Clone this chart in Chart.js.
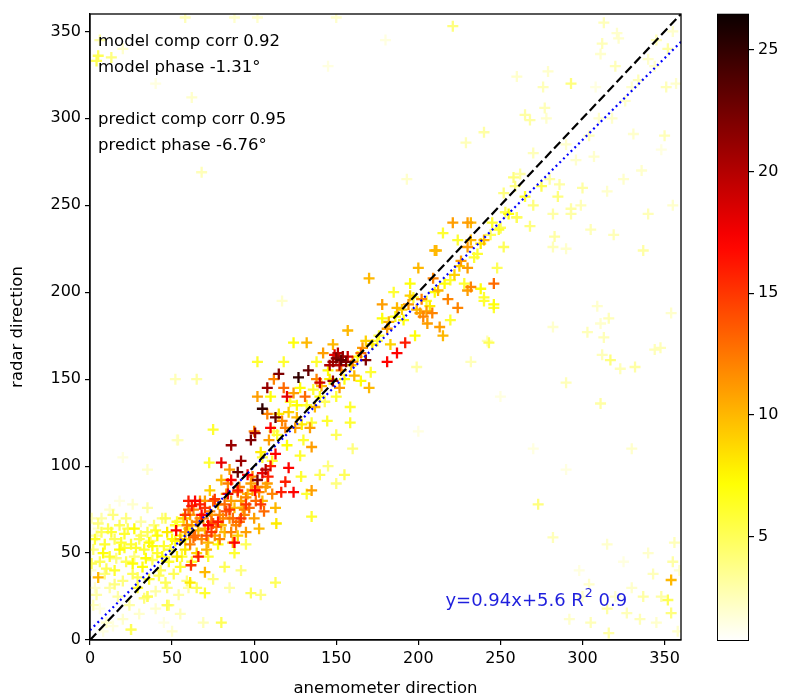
<!DOCTYPE html>
<html>
<head>
<meta charset="utf-8">
<script src="https://cdn.jsdelivr.net/npm/chart.js@4.4.1/dist/chart.umd.min.js"></script>
<style>
  body { margin: 0; background: #fff; }
  #wrap { position: relative; width: 785px; height: 699px; }
  #scatter { position: absolute; left: 0; top: 0; }
  #cbar { position: absolute; left: 700px; top: 0; }
</style>
</head>
<body>
<div id="wrap">
  <canvas id="scatter" width="700" height="699"></canvas>
  <canvas id="cbar" width="85" height="699"></canvas>
</div>
<script>
// --- Data (directions in degrees, colour = wind speed) ---
const anemometerDir = [
  // pale/yellow cloud, lower left
  2,4,6,7,9,9,11,12,12,14, 15,15,17,18,18,20,21,22,22,24,
  25,26,27,27,29,30,31,32,33,33, 35,36,36,38,39,40,41,41,43,44,
  45,46,47,48,48,50,51,52,53,54, 55,55,57,58,59,60,
  3,6,10,14,20,25,30,35,40,45, 47,50,55,60,8,2,5,12,18,26, 35,0.5,1,
  5,25,35,47,70,69,80,98,104,113,61,70,
  62,65,72,75,78,82,85,88,92,95,
  1,3,5,8,10,13,16,19,23,26, 28,31,34,37,40,42,44,46,49,52, 56,58,4,7,15,21,29,38,47,53,
  // orange / red band along the diagonal
  55,58,61,62,64,67,68,70,73,74, 76,79,80,82,85,86,88,91,92,94,
  96,97,100,102,105,106,108,111,63,67, 71,75,79,83,87,91,95,99,57,65,
  80,85,73,90,103,
  59,61,63,66,69,71,74,77,78,81, 83,86,89,90,93,95,98,101,103,107, 60,65,70,75,82,87,94,99,72,84,
  52.5,64,60,67,70,66,61.5,80,86,88, 100.6,108.5,113,121,116.5,124,119,95,85,78, 92,104,74,
  62,68,76,84,90,96,105,110,58,72,
  86,98,90,92,102,107,100.6,
  113,113.5,135,135,135,128.6,125,75,72.6,53,35,65,100,
  // 100-170 degrees
  102,122,124,158.5,158.5,144.5,135,171,165,110, 115,118,128,132,140,145,150,155,138,112,
  105,120,130,150,145,160,155,
  104,109,114,117,121,126,131,136,141,146, 153,159,163,166,143,137,129,119,111,161,
  102,124,134,132,170,157,112,118,108,126, 138,142,160,165,148,152,168,
  127,133,115,108,105,113,140,148,168,181, 187,192,120,110,
  148,150,152,154,156,151,157,146,153,149,
  // 170-250 degrees
  201,199,203,205,215,246,232,230,210,200, 170,178,221,232,218,230,224,181,187,208.5,
  205.5,213,211,232,230,240,230,195,225,
  215,195,219.5,240,246,248,219.5,238,175,191, 224,236,252,250,260,240,246,243,185,178,
  198,210,228,205,
  172,176,182,186,190,194,197,202,207,212, 216,222,226,234,238,244,249,253,183,209,
  117,242,232,199,193,229,
  // upper right, faint
  221,313,321,312,311,279,293,276,320,340, 351,260,265,268,240,277,307,331,293,293,
  282,319,337,305,282,258,252,259,275,260, 250,270,265,255,245,280,285,300,355,345,
  330,350,310,290,325,355,340,290,
  262,270,286,296,304,318,326,334,344,352, 268,283,299,315,336,348,357,278,308,322,
  58,88,102,68,6,5,13,4,20,40, 62,145,180,150,
  // right side, faint
  282,309,303,311,316,313,317,323,332,347.5, 354,290,311,273,282,315,356,354,352,354,
  316,305,315,343,337,327,330,345,358,300, 340,355,312,290,250,200,270,330,
  292,298,320,335,348,359,325,304,
  132,140,128,150,52,53.6,20,344
];
const radarDir = [
  52,60,45,70,38,55,64,30,48,72, 58,40,25,66,52,34,61,45,70,20,
  55,38,64,48,30,58,68,42,52,24, 62,35,56,46,66,28,50,60,40,70,
  54,33,62,45,20,58,38,66,48,26, 60,42,70,52,34,64,
  30,18,10,8,12,6,15,25,18,10, 20,5,15,30,5,20,64,75,80,78, 76,40,70,
  36,6,25,20,27,10,10,27,26,33,33,39,
  45,30,48,35,55,42,30,50,40,55,
  44,58,67,50,41,62,47,56,64,44, 53,60,47,57,63,37,48,70,52,57, 48,58,26,62,32,53,36,54,30,68,
  58,62,55,66,60,70,58,64,74,68, 60,72,66,78,70,62,76,68,80,72,
  84,76,70,88,80,74,90,84,75,80, 52,80,58,84,56,88,62,94,70,50,
  92,98,86,60,64,
  66,72,59,63,70,60,72,65,78,70, 74,80,66,85,76,82,90,80,85,88, 75,68,80,67,62,70,75,86,56,90,
  63,80,80,78,76,48,43,102,92,56, 86,94,107,99,85,85,91,78,75,68, 70,78,62,
  77,72,81,84,86,95,96,100,72,66,
  112,115,96.5,103,92,98,119,
  76,67,71,111,86,94,122,121,102,115,98,150,120,
  160,137,171,134,125,126,125,154,149,140, 130,160,145,135,140,155,140,150,160,120,
  105,112,115,118,100,110,95,
  108,115,118,126,131,135,140,144,146,150, 155,158,163,168,137,134,124,122,103,152,
  140,142,122,171,145,178,150,145,130,128, 150,165,160,165,170,145,172,
  151,155,153,145,133,128,148,149,161,160, 165,171,140,122,
  160,162,158,163,160,165,163,158,161,164,
  188,190,186,189,175,205,203,214,224,214, 208,193,240,240,196,201,191,179,191,188,
  182,180,224,230,226,230,240,198,215,
  234,205,207,195,191,214,184,202,172,184, 230,222,226,237,243,197,193,171,200,185,
  175,200,205,195,
  170,175,183,186,190,193,197,196,192,201, 205,210,218,220,228,233,236,246,170,208,
  195,172,160,157,265,286,
  353,355,349,343,337,327,320,318,330,334, 318,324,302,299,292,306,278,291,248,245,
  245,233,224,236,226,266,257,261,261,243, 237,250,255,245,240,265,255,260,350,345,
  318,290,300,285,265,250,245,225,
  268,280,262,276,290,300,310,322,330,340, 238,232,250,258,270,282,320,300,318,346,
  358,358,358,269,345,336,335,333,340,320, 312,330,345,358,
  180,192,177,182,185,174,161,156,157,168, 188,148,136,78,59,55,56,34.5,23,15.5,
  4,10,18,38,25,15.5,30,10,5,25, 50,45,164,98,140,120,110,110,
  12,40,25,12,25,40,45,32,
  84,95,106,90,150,115,105,167
];
const windSpeed = [
  4,3,5,3,4,6,5,3,6,4, 5,6,3,5,7,4,6,5,4,3,
  6,5,7,4,6,5,3,7,6,4, 5,6,7,5,4,3,6,7,5,4,
  6,5,8,6,4,7,5,6,8,3, 7,6,5,8,4,7,
  2,1.5,2,1.5,2,3,2,4,2,1.5, 3,2,2.5,3,1.5,2.5,2,2,1.5,2, 3,2,2.5,
  10,5,5,5,6,2.5,5,5,4,5,8,10,
  6,5,6,4,7,5,3,6,4,5,
  5,6,4,7,5,6,4,6,5,7, 6,5,7,4,6,5,7,5,6,7, 6,8,3,5,4,6,5,7,4,6,
  10,11,12,10,13,11,12,10,12,13, 11,12,10,13,11,12,10,13,11,12,
  10,13,11,12,10,13,11,12,12,11, 10,13,12,11,10,12,11,12,9,9,
  10,11,9,9,10,
  12,11,13,10,12,14,11,13,10,12, 14,11,12,13,10,12,11,13,12,11, 13,12,11,14,10,13,12,11,10,12,
  17,17,16,16,15,16,15,18,17,17, 17,16,17,17,16,17,16,15,15,16, 15,15,15,
  16,17,15,18,16,17,18,16,15,17,
  21,22,23,21,22,20,21,
  10,8,6,11,11,6,11,6,6,2,2,3,12,
  6,6,7,6,6,6,6,6,7,7, 8,6,7,6,7,7,6,7,6,5,
  6,7,6,5,4,4,5,
  8,11,6,12,9,7,13,6,10,8, 12,9,7,11,5,10,8,12,6,10,
  11,11,11,10,10,10,12,13,12,10, 12,11,12,13,10,11,9,
  25,23,22,21,25,23,19,21,22,17, 17,16,18,17,
  21,22,20,21,22,20,19,20,23,18,
  11,10,12,11,10,13,12,11,10,10, 10,11,11,10,12,11,12,11,10,12,
  11,11,10,10,11,10,11,9,9,
  6,7,6,6,6,5,6,7,6,7, 6,6,5,5,5,6,7,5,6,7,
  7,7,6,6,
  8,6,10,7,9,11,6,12,8,10, 7,9,11,6,8,5,6,5,9,12,
  2,2.5,2.5,3,2,2.5,
  4,2.5,2,2.5,2,2,4,2.5,2.5,2, 2.5,2,3,3,3,2.5,2,2,3,3,
  3,2.5,3,2.5,2.5,4,4,4,5,5, 5,4,6,7,6,3,4,3,2,2.5,
  2,2.5,2,2,2,2,2.5,2,
  3,2.5,3,2,2.5,2,2,2.5,2,3, 4,3,2.5,2,2,1.5,2,2,1.5,2,
  2.5,2,2,2.5,3,5,4,5,2,1.5, 2,1.5,1.5,2,
  2,2,2.5,2,2.5,2.5,4,2.5,3,2.5, 2,2.5,3,4,2.5,2,2.5,10,5,4,
  3,2.5,3,2.5,3,2.5,2,2,2,2, 2,3,2.5,1.5,1.5,1.5,1.5,2,
  2,1.5,2,2.5,3,2,1.5,2,
  6,5,6,4,2.5,2.5,1.5,2.5
];

const axisTicks = [0, 50, 100, 150, 200, 250, 300, 350];
const axisMax = 360;
const colorTicks = [5, 10, 15, 20, 25];
const colorMin = 0.7, colorMax = 26.5;
const fitSlope = 0.94, fitIntercept = 5.6, fitR2 = 0.9;
const statLines = ['model comp corr 0.92', 'model phase -1.31\u00b0', '', 'predict comp corr 0.95', 'predict phase -6.76\u00b0'];

if (anemometerDir.length !== radarDir.length || radarDir.length !== windSpeed.length) {
  console.warn('length mismatch', anemometerDir.length, radarDir.length, windSpeed.length);
}

// --- matplotlib "hot_r" colour map ---
function hotR(t) {
  const s = 1 - Math.min(1, Math.max(0, t));
  const r = s < 0.365079 ? 0.0416 + 0.9584 * s / 0.365079 : 1;
  const g = s < 0.365079 ? 0 : (s < 0.746032 ? (s - 0.365079) / 0.380953 : 1);
  const b = s < 0.746032 ? 0 : (s - 0.746032) / 0.253968;
  return 'rgb(' + Math.round(r * 255) + ',' + Math.round(g * 255) + ',' + Math.round(b * 255) + ')';
}
const speedColor = v => hotR((v - colorMin) / (colorMax - colorMin));

// draw slow (pale) points first, fast (dark) ones on top
const order = anemometerDir.map((_, i) => i).sort((a, b) => windSpeed[a] - windSpeed[b]);
const scatterPts = order.map(i => ({ x: anemometerDir[i], y: radarDir[i] }));
const scatterCols = order.map(i => speedColor(windSpeed[i]));

const font = { family: 'DejaVu Sans', size: 16 };
const labelFont = { family: 'DejaVu Sans', size: 16.5 };

// box round the axes + text annotations
const framePlugin = {
  id: 'frame',
  afterDatasetsDraw(chart) {
    const { ctx, chartArea: a, scales } = chart;
    ctx.save();
    ctx.strokeStyle = '#000';
    ctx.lineWidth = 1.3;
    ctx.strokeRect(a.left, a.top, a.right - a.left, a.bottom - a.top);

    ctx.font = '16.5px "DejaVu Sans"';
    ctx.fillStyle = '#000';
    ctx.textBaseline = 'middle';
    let y = a.top + 28;
    statLines.forEach(t => {
      if (t) ctx.fillText(t, a.left + 8, y);
      y += 26;
    });

    // fit label, bottom right
    const fx = scales.x.getPixelForValue(216.5);
    const fy = scales.y.getPixelForValue(22.4);
    ctx.fillStyle = '#1f1fdd';
    ctx.font = '18px "DejaVu Sans"';
    const part1 = 'y=' + fitSlope + 'x+' + fitIntercept + ' R';
    ctx.fillText(part1, fx, fy);
    let w = ctx.measureText(part1).width;
    ctx.font = '12.5px "DejaVu Sans"';
    ctx.fillText('2', fx + w + 1, fy - 7);
    w += ctx.measureText('2').width + 1;
    ctx.font = '18px "DejaVu Sans"';
    ctx.fillText(' ' + fitR2, fx + w, fy);
    ctx.restore();
  }
};

function axisOpts(title, isX) {
  return {
    type: 'linear',
    min: 0,
    max: axisMax,
    afterBuildTicks: s => { s.ticks = axisTicks.map(v => ({ value: v })); },
    grid: { drawOnChartArea: false, tickLength: 5, color: '#000', lineWidth: 1.2 },
    border: { color: '#000', width: 1.3 },
    ticks: { color: '#000', font: font, padding: 4, maxRotation: 0 },
    title: { display: true, text: title, color: '#000', font: labelFont, padding: isX ? { top: 0, bottom: 0 } : { top: 8, bottom: 0 } },
    afterFit: s => { if (isX) s.height = 59; else s.width = 90; }
  };
}

new Chart(document.getElementById('scatter').getContext('2d'), {
  type: 'scatter',
  data: {
    datasets: [
      {
        data: [{ x: 0, y: 0 }, { x: axisMax, y: axisMax }],
        showLine: true, borderColor: '#000', borderWidth: 2.2, borderDash: [9, 4],
        pointRadius: 0, order: 0
      },
      {
        data: [{ x: 0, y: fitIntercept }, { x: axisMax, y: fitSlope * axisMax + fitIntercept }],
        showLine: true, borderColor: '#0000ff', borderWidth: 2.2, borderDash: [2, 3.3],
        pointRadius: 0, order: 1
      },
      {
        data: scatterPts,
        pointStyle: 'cross',
        pointRadius: 5.5,
        pointBorderWidth: 2.3,
        pointBorderColor: scatterCols,
        pointBackgroundColor: scatterCols,
        clip: 0,
        order: 2
      }
    ]
  },
  options: {
    responsive: false,
    animation: false,
    events: [],
    plugins: { legend: { display: false }, tooltip: { enabled: false } },
    layout: { padding: { top: 14, right: 19, left: 0, bottom: 0 } },
    scales: {
      x: axisOpts('anemometer direction', true),
      y: axisOpts('radar direction', false)
    }
  },
  plugins: [framePlugin]
});

// --- colour bar ---
new Chart(document.getElementById('cbar').getContext('2d'), {
  type: 'bar',
  data: {
    labels: [''],
    datasets: [{
      data: [[colorMin, colorMax]],
      backgroundColor: c => {
        const ch = c.chart;
        if (!ch.chartArea) return '#fff';
        const ys = ch.scales.y;
        const g = ch.ctx.createLinearGradient(0, ys.getPixelForValue(colorMin), 0, ys.getPixelForValue(colorMax));
        for (let i = 0; i <= 40; i++) g.addColorStop(i / 40, hotR(i / 40));
        return g;
      },
      borderColor: '#000',
      borderWidth: 1.3,
      borderSkipped: false,
      barPercentage: 1,
      categoryPercentage: 1
    }]
  },
  options: {
    responsive: false,
    animation: false,
    events: [],
    plugins: { legend: { display: false }, tooltip: { enabled: false } },
    layout: { padding: { left: 17, top: 13, bottom: 58, right: 0 } },
    scales: {
      x: { display: false },
      y: {
        position: 'right',
        min: colorMin,
        max: colorMax,
        afterBuildTicks: s => { s.ticks = colorTicks.map(v => ({ value: v })); },
        grid: { drawOnChartArea: false, tickLength: 5, color: '#000', lineWidth: 1.2 },
        border: { display: false },
        ticks: { color: '#000', font: font, padding: 4 },
        afterFit: s => { s.width = 36; }
      }
    }
  }
});
</script>
</body>
</html>
